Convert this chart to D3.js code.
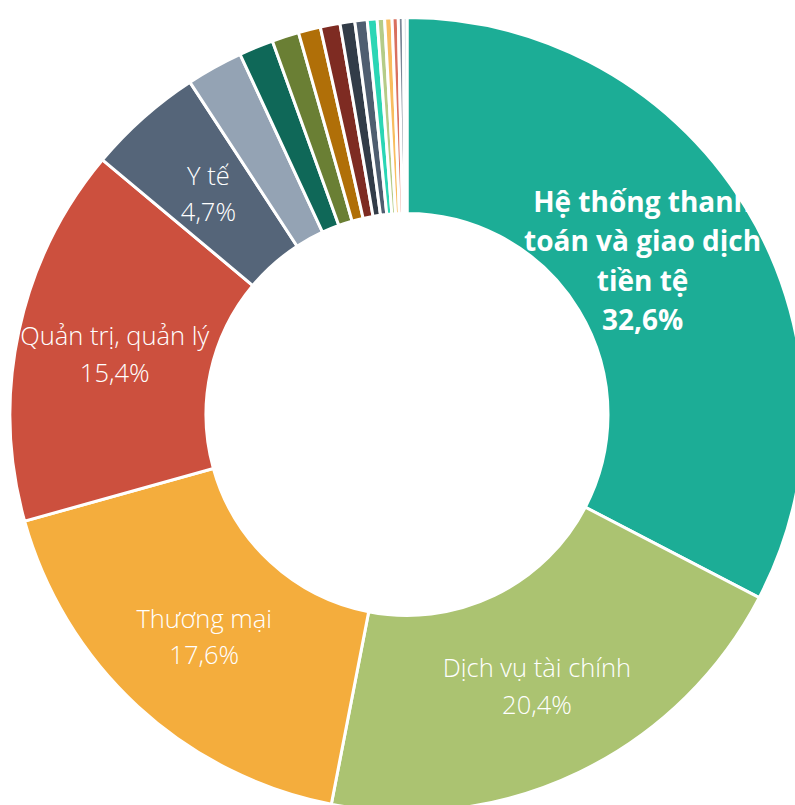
<!DOCTYPE html>
<html>
<head>
<meta charset="utf-8">
<script src="https://cdn.jsdelivr.net/npm/d3@7"></script>
<style>
  body { margin: 0; background: #fff; }
</style>
</head>
<body>
<div id="viz"></div>
<script>
const categories = ["Hệ thống thanh toán và giao dịch tiền tệ", "Dịch vụ tài chính", "Thương mại",
  "Quản trị, quản lý", "Y tế", "Khác 1", "Khác 2", "Khác 3", "Khác 4", "Khác 5", "Khác 6",
  "Khác 7", "Khác 8", "Khác 9", "Khác 10", "Khác 11", "Khác 12", "Khác 13"]
const values = [32.6, 20.4, 17.6, 15.4, 4.7, 2.3, 1.4, 1.1, 0.9, 0.8, 0.6, 0.5, 0.4, 0.3, 0.3, 0.25, 0.2, 0.15]
const labelLines = [["Hệ thống thanh", "toán và giao dịch", "tiền tệ", "32,6%"],
  ["Dịch vụ tài chính", "20,4%"], ["Thương mại", "17,6%"], ["Quản trị, quản lý", "15,4%"], ["Y tế", "4,7%"]]
const colors = ["#1cad96", "#abc371", "#f4ad3d", "#cc503e", "#556579", "#94a3b4", "#0f6858", "#6a7f34",
  "#b06f08", "#7e2b22", "#323c48", "#4f5e70", "#2bd6b5", "#b5cc88", "#f8bd5f", "#d9705f", "#7a8797", "#c4cfd9"]

const width = 795
const height = 805
const cx = 407, cy = 414.5
const outerR = 397, innerR = 201

const svg = d3.select("#viz").append("svg")
  .attr("width", width)
  .attr("height", height)

const wrapper = svg.append("g").attr("transform", `translate(${cx},${cy})`)

const pie = d3.pie().sort(null).value(d => d)
const arcs = pie(values)
const arc = d3.arc().innerRadius(innerR).outerRadius(outerR)

const color = d3.scaleOrdinal().domain(categories).range(colors)

const defs = svg.append("defs")
defs.selectAll("clipPath")
  .data(arcs)
  .join("clipPath")
  .attr("id", (d, i) => "clip" + i)
  .append("path")
  .attr("d", arc)

wrapper.append("g")
  .selectAll("path")
  .data(arcs)
  .join("path")
  .attr("d", arc)
  .attr("fill", (d, i) => color(categories[i]))
  .attr("stroke", "#fff")
  .attr("stroke-width", 3)

// labels for the five big slices, clipped to their slice
const labels = wrapper.append("g")
  .selectAll("g")
  .data(arcs.slice(0, 5))
  .join("g")
  .attr("clip-path", (d, i) => `url(#clip${i})`)

labels.each(function (d, i) {
  const [x, y] = arc.centroid(d)
  const lines = labelLines[i]
  const bold = i === 0
  const lh = bold ? 39.5 : 36.5
  const shiftX = bold ? -20 : 0
  const shiftY = bold ? 2 : 3
  const t = d3.select(this).append("text")
    .attr("text-anchor", "middle")
    .attr("fill", "#fff")
    .style("font-family", "'Open Sans', sans-serif")
    .style("font-weight", bold ? 700 : 300)
    .style("font-size", bold ? "28px" : "25.5px")
  lines.forEach((s, k) => {
    t.append("tspan")
      .attr("x", x + shiftX)
      .attr("y", y + shiftY + (k - (lines.length - 1) / 2) * lh)
      .attr("dy", "0.35em")
      .text(s)
  })
})
</script>
</body>
</html>
